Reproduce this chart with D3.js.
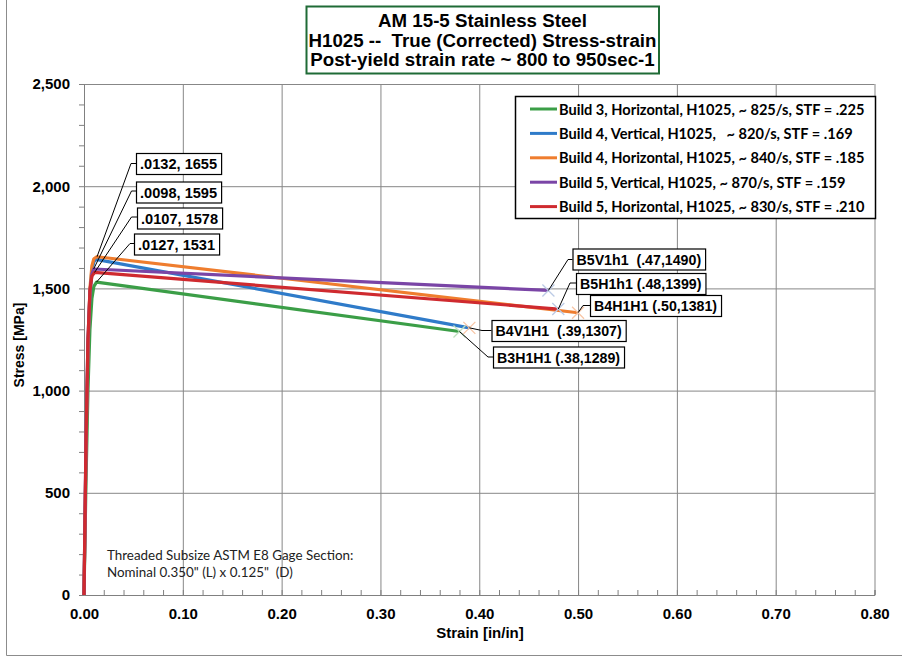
<!DOCTYPE html>
<html><head><meta charset="utf-8">
<script src="https://cdn.jsdelivr.net/npm/d3@7"></script>
<style>
html,body{margin:0;padding:0;background:#fff;}
svg{display:block;}
text{white-space:pre;}
</style>
</head><body>
<svg id="c" width="902" height="659"></svg>
<script>
// ---------- DATA ----------
const titleLines = ["AM 15-5 Stainless Steel", "H1025 --  True (Corrected) Stress-strain", "Post-yield strain rate ~ 800 to 950sec-1"];
const seriesNames = [
  "Build 3, Horizontal, H1025, ~ 825/s, STF = .225",
  "Build 4, Vertical, H1025,   ~ 820/s, STF = .169",
  "Build 4, Horizontal, H1025, ~ 840/s, STF = .185",
  "Build 5, Vertical, H1025, ~ 870/s, STF = .159",
  "Build 5, Horizontal, H1025, ~ 830/s, STF = .210"
];
const b3Horizontal = [[0,0],[0.002,550],[0.004,1000],[0.006,1300],[0.008,1450],[0.010,1510],[0.0127,1531],[0.38,1289]];
const b4Vertical   = [[0,0],[0.002,700],[0.004,1200],[0.006,1480],[0.008,1590],[0.010,1630],[0.012,1642],[0.39,1307]];
const b4Horizontal = [[0,0],[0.002,700],[0.004,1200],[0.006,1500],[0.008,1610],[0.010,1645],[0.0132,1655],[0.50,1381]];
const b5Vertical   = [[0,0],[0.002,750],[0.004,1250],[0.006,1480],[0.008,1570],[0.0098,1595],[0.47,1490]];
const b5Horizontal = [[0,0],[0.002,750],[0.004,1250],[0.006,1490],[0.008,1560],[0.0107,1578],[0.48,1399]];
const seriesData = [b3Horizontal, b4Vertical, b4Horizontal, b5Vertical, b5Horizontal];

const peakLabels = [".0132, 1655", ".0098, 1595", ".0107, 1578", ".0127, 1531"];
const peakStrain = [0.0132, 0.0098, 0.0107, 0.0127];
const peakStress = [1655, 1595, 1578, 1531];

const endLabels = ["B5V1h1  (.47,1490)", "B5H1h1 (.48,1399)", "B4H1H1 (.50,1381)", "B4V1H1  (.39,1307)", "B3H1H1 (.38,1289)"];
const endStrain = [0.47, 0.48, 0.50, 0.39, 0.38];
const endStress = [1490, 1399, 1381, 1307, 1289];

const xTicks = [0, 0.1, 0.2, 0.3, 0.4, 0.5, 0.6, 0.7, 0.8];
const yTicks = [0, 500, 1000, 1500, 2000, 2500];
const xTitle = "Strain [in/in]";
const yTitle = "Stress [MPa]";
const noteLines = ["Threaded Subsize ASTM E8 Gage Section:", "Nominal 0.350\" (L) x 0.125\"  (D)"];

// ---------- STYLE / LAYOUT ----------
const colors = ["#3b9e47", "#2f7bc9", "#ef7d2e", "#7a45a6", "#cf2a2f"];
const endMarkColors = ["#bccbe6", "#bccbe6", "#f8c6a6", "#f8c6a6", "#bfe0bf"];
const peakBox = [[136,153],[136,181.5],[137,207.5],[134,233.5]];
const peakElbow = [[131,163.5],[131.5,191],[131.5,217],[130,243.5]];
const endBox = [[572.5,248.5],[576,273],[590,295],[491.5,320],[493,346.5]];
const endElbow = [[568,259.5],[570,283],[583,305.5],[482,330.5],[488,357]];

const svg = d3.select("#c");
const L = 84, R = 874.5, T = 84, B = 595;
const x = d3.scaleLinear().domain([0, 0.8]).range([L, R]);
const y = d3.scaleLinear().domain([0, 2500]).range([B, T]);

svg.append("path").attr("d", `M6.5,0 V655.5 H902`).attr("fill","none").attr("stroke","#8c8c8c").attr("stroke-width",1);

const gridColor = "#878787";
svg.append("g").attr("transform",`translate(0,${B})`)
  .call(d3.axisBottom(x).tickValues(xTicks.slice(1)).tickSize(-(B-T)).tickFormat(""))
  .call(g=>{g.select(".domain").remove(); g.selectAll("line").attr("stroke",gridColor);});
svg.append("g").attr("transform",`translate(${L},0)`)
  .call(d3.axisLeft(y).tickValues(yTicks.slice(1)).tickSize(-(R-L)).tickFormat(""))
  .call(g=>{g.select(".domain").remove(); g.selectAll("line").attr("stroke",gridColor);});

svg.append("g").attr("transform",`translate(${L},0)`)
  .call(d3.axisLeft(y).tickValues(d3.range(0,2501,100)).tickSize(5).tickFormat(""))
  .call(g=>{g.selectAll("line").attr("stroke","#808080"); g.select(".domain").attr("stroke","#808080");});
svg.append("g").attr("transform",`translate(0,${B})`)
  .call(d3.axisTop(x).tickValues(d3.range(0,41).map(i=>i*0.02)).tickSize(5).tickFormat(""))
  .call(g=>{g.selectAll("line").attr("stroke","#808080"); g.select(".domain").attr("stroke","#808080");});

const tickFont = "'Liberation Sans', Arial, sans-serif";
svg.append("g").attr("transform",`translate(${L},0)`)
  .call(d3.axisLeft(y).tickValues(yTicks).tickFormat(d3.format(",")).tickSize(0).tickPadding(14))
  .call(g=>{g.select(".domain").remove(); g.selectAll("text").attr("font-family",tickFont).attr("font-weight","bold").attr("font-size",15).attr("fill","#000");});
svg.append("g").attr("transform",`translate(0,${B})`)
  .call(d3.axisBottom(x).tickValues(xTicks).tickFormat(d3.format(".2f")).tickSize(0).tickPadding(13))
  .call(g=>{g.select(".domain").remove(); g.selectAll("text").attr("font-family",tickFont).attr("font-weight","bold").attr("font-size",15).attr("fill","#000");});

svg.append("text").attr("x", 480).attr("y", 638).attr("text-anchor","middle")
  .attr("font-family",tickFont).attr("font-weight","bold").attr("font-size",15).text(xTitle);
svg.append("text").attr("transform","translate(24,345) rotate(-90)").attr("text-anchor","middle")
  .attr("font-family",tickFont).attr("font-weight","bold").attr("font-size",14).text(yTitle);

const noteFont = "Lato, 'Open Sans', sans-serif";
svg.append("g").selectAll("text").data(noteLines).join("text")
  .attr("x",107).attr("y",(d,i)=>560+i*16.5).attr("font-family",noteFont).attr("font-size",13.4).attr("fill","#222").text(d=>d);

const line = d3.line().x(d=>x(d[0])).y(d=>y(d[1]));
svg.append("g").selectAll("path").data(seriesData).join("path")
  .attr("d", line).attr("fill","none").attr("stroke",(d,i)=>colors[i]).attr("stroke-width",3.2).attr("stroke-linejoin","round");

svg.append("g").selectAll("path").data(endStrain).join("path")
  .attr("d",(d,i)=>{const cx=x(d), cy=y(endStress[i]), s=6; return `M${cx-s},${cy-s}L${cx+s},${cy+s}M${cx-s},${cy+s}L${cx+s},${cy-s}`;})
  .attr("stroke",(d,i)=>endMarkColors[i]).attr("stroke-width",1.3).attr("fill","none");

function drawLabel(g, text, bx, by, fs, elbow, ax, ay){
  g.append("path").attr("d",`M${ax},${ay}L${elbow[0]},${elbow[1]}L${bx},${elbow[1]}`)
    .attr("fill","none").attr("stroke","#000").attr("stroke-width",1);
  const t = g.append("text").attr("x",bx+4).attr("y",by+16).attr("font-family",tickFont)
    .attr("font-weight","bold").attr("font-size",fs).text(text);
  const w = t.node().getComputedTextLength();
  g.insert("rect","text").attr("x",bx+0.5).attr("y",by+0.5).attr("width",w+8).attr("height",21)
    .attr("fill","#fff").attr("stroke","#000").attr("stroke-width",1.2);
}
const lg = svg.append("g");
peakLabels.forEach((s,i)=>{ drawLabel(lg.append("g"), s, peakBox[i][0], peakBox[i][1], 14.6, peakElbow[i], x(peakStrain[i]), y(peakStress[i])); });
endLabels.forEach((s,i)=>{ drawLabel(lg.append("g"), s, endBox[i][0], endBox[i][1], 14.2, endElbow[i], x(endStrain[i]), y(endStress[i])); });

const leg = svg.append("g");
leg.append("rect").attr("x",515.5).attr("y",96.5).attr("width",360).attr("height",122)
  .attr("fill","#fff").attr("stroke","#000").attr("stroke-width",1.5);
seriesNames.forEach((s,i)=>{
  const cy = 109 + i*24.4;
  leg.append("line").attr("x1",530).attr("x2",557).attr("y1",cy).attr("y2",cy).attr("stroke",colors[i]).attr("stroke-width",3);
  leg.append("text").attr("x",559).attr("y",cy+5.5).attr("font-family",noteFont).attr("font-weight","bold")
    .attr("font-size",14.6).attr("fill","#000").text(s);
});

const tg = svg.append("g");
tg.append("rect").attr("x",306.5).attr("y",6.5).attr("width",352.5).attr("height",67)
  .attr("fill","#fff").attr("stroke","#1f6b36").attr("stroke-width",2);
tg.selectAll("text").data(titleLines).join("text")
  .attr("x",482.5).attr("y",(d,i)=>27+i*19.6).attr("text-anchor","middle")
  .attr("font-family",tickFont).attr("font-weight","bold").attr("font-size",18.7).attr("fill","#000").text(d=>d);
</script>
</body></html>
